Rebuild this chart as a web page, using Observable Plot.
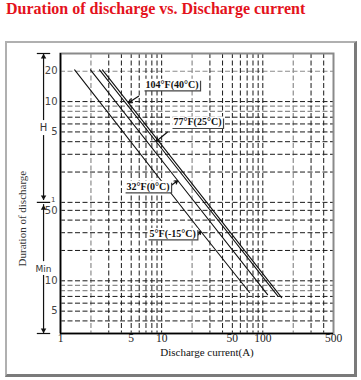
<!DOCTYPE html>
<html><head><meta charset="utf-8">
<script src="https://cdn.jsdelivr.net/npm/d3@7"></script>
<script src="https://cdn.jsdelivr.net/npm/@observablehq/plot@0.6"></script>
<style>
html,body{margin:0;padding:0;background:#fff}
#wrap{position:relative;width:361px;height:380px;overflow:hidden}
#title{position:absolute;left:6px;top:0;font:bold 16px "Liberation Serif","Times New Roman",serif;line-height:18px;color:#e4121c;white-space:nowrap}
#chart{position:absolute;left:0;top:30px;width:361px;height:350px}
#chart svg{background:none !important;max-width:none !important}
#box{position:absolute;left:5px;top:41px;width:347px;height:331px;border-left:2px solid #b0b0b0;border-top:2px solid #b0b0b0;border-right:3px solid #7a7a7a;border-bottom:3px solid #7a7a7a;z-index:5;pointer-events:none;background:transparent}
</style></head><body>
<div id="wrap">
<div id="title">Duration of discharge vs. Discharge current</div>
<div id="chart"></div>
<div id="box"></div>
</div>
<script>
// ---- data ----
const currentTicks = [1, 5, 10, 50, 100, 500];
const currentGrid = [3, 4, 5, 6, 7, 8, 9, 10, 30, 40, 50, 60, 70, 80, 90, 100, 300, 400];
const currentGridLight = [2, 20, 200];
const hourGrid = [10, 7, 6, 5, 4, 3, 2, 1];
const hourGridLight = [20, 9, 8];
const minuteGrid = [50, 40, 30, 20, 10, 7, 6, 5, 4];
const minuteGridLight = [9, 8];
const hourLabels = [20, 10, 5, 1];
const minuteLabels = [50, 10, 5];

const seriesNames = ["5°F(-15°C)", "32°F(0°C)", "77°F(25°C)", "104°F(40°C)"];
const currentM15 = [1.38, 24.3, 74];
const minutesM15 = [1240, 31, 7.65];
const current0 = [1.98, 14.4, 111.5];
const minutes0 = [1240, 98.9, 7.3];
const current25 = [2.43, 8.8, 141.6];
const minutes25 = [1240, 241, 7.0];
const current40 = [2.6, 4.7, 153.5];
const minutes40 = [1240, 583, 6.8];

// label anchor (current, minutes) and arrow start
const labelCurrent = [7.59, 4.5, 13.1, 6.93];
const labelMinutes = [29.3, 86, 374, 885];
const arrowFromCurrent = [21.3, 11.8, 11.36, 5.91];
const arrowFromMinutes = [26.1, 84.8, 298, 678];

// unit bracket annotation in the left margin (current-axis positions, minute spans)
const bracketCurrent = [0.59, 0.68, 0.8];
const hourSpan = [1800, 389, 276, 62.7];
const minuteSpan = [57, 15.5, 11.3, 3];

// ---- build tables ----
const curveX = [currentM15, current0, current25, current40];
const curveY = [minutesM15, minutes0, minutes25, minutes40];
const curves = seriesNames.flatMap((s, i) => curveX[i].map((c, j) => ({series: s, current: c, minutes: curveY[i][j]})));
const labels = seriesNames.map((s, i) => ({text: s, current: labelCurrent[i], minutes: labelMinutes[i]}));
const arrows = seriesNames.map((s, i) => ({
  x1: arrowFromCurrent[i], y1: arrowFromMinutes[i], x2: curveX[i][1], y2: curveY[i][1]
}));
const yLabels = [
  ...hourLabels.map(h => ({v: h * 60, t: String(h), small: h === 1})),
  ...minuteLabels.map(m => ({v: m, t: String(m), small: false}))
];
const bx = bracketCurrent[1];
const segs = [
  {y1: hourSpan[0], y2: hourSpan[1]}, {y1: hourSpan[2], y2: hourSpan[3]},
  {y1: minuteSpan[0], y2: minuteSpan[1]}, {y1: minuteSpan[2], y2: minuteSpan[3]}
];
const upHeads = [hourSpan[0], minuteSpan[0]];
const downHeads = [hourSpan[3], minuteSpan[3]];

const serif = "'Liberation Serif','Times New Roman',serif";
const sans = "'DejaVu Sans',Tahoma,sans-serif";
const dark = {stroke: "#1a1a1a", strokeWidth: 1, strokeDasharray: "5,2.5"};
const light = {stroke: "#8c8c8c", strokeWidth: 1.2, strokeDasharray: "5,2.5"};

const plot = Plot.plot({
  width: 361,
  height: 350,
  marginLeft: 60,
  marginRight: 28,
  marginTop: 23,
  marginBottom: 47,
  x: {type: "log", domain: [1, 500], axis: null},
  y: {type: "log", domain: [3, 1800], axis: null},
  style: {background: "none", overflow: "visible"},
  marks: [
    Plot.ruleX(currentGridLight, {x: d => d, ...light}),
    Plot.ruleY(hourGridLight, {y: h => h * 60, ...light}),
    Plot.ruleY(minuteGridLight, {y: m => m, ...light}),
    Plot.ruleX(currentGrid, {x: d => d, ...dark}),
    Plot.ruleY(hourGrid, {y: h => h * 60, ...dark}),
    Plot.ruleY(minuteGrid, {y: m => m, ...dark}),
    Plot.frame({stroke: "#8a8a8a", strokeWidth: 2}),
    Plot.ruleX([1], {stroke: "#000", strokeWidth: 1.6}),
    Plot.ruleY([3], {stroke: "#000", strokeWidth: 1.6}),
    Plot.line(curves, {x: "current", y: "minutes", z: "series", stroke: "#111", strokeWidth: 1.1}),
    Plot.arrow(arrows, {x1: "x1", y1: "y1", x2: "x2", y2: "y2", stroke: "#111", strokeWidth: 1.2, headLength: 5}),
    Plot.text(labels, {x: "current", y: "minutes", text: "text", textAnchor: "start", fontWeight: "bold",
      fontFamily: serif, fontSize: 10, fill: "#111"}),
    // axis tick labels
    Plot.text(currentTicks, {x: d => d, frameAnchor: "bottom", dy: 8, text: d => String(d),
      fontFamily: serif, fontSize: 11.5, fill: "#222"}),
    Plot.text(yLabels.filter(d => !d.small), {x: 1, y: "v", text: "t", dx: -3, textAnchor: "end",
      fontFamily: sans, fontSize: 10, fill: "#444"}),
    Plot.text(yLabels.filter(d => d.small), {x: 1, y: "v", text: "t", dx: -5, dy: -3, textAnchor: "end",
      fontFamily: sans, fontSize: 7, fill: "#444"}),
    // unit brackets
    Plot.ruleY([hourSpan[0], 60, minuteSpan[3]], {x1: bracketCurrent[0], x2: bracketCurrent[2], stroke: "#111", strokeWidth: 1.2}),
    Plot.ruleX(segs, {x: bx, y1: "y1", y2: "y2", stroke: "#111", strokeWidth: 1.2}),
    Plot.dot(upHeads, {x: bx, y: d => d, dy: 3.5, symbol: "triangle2", r: 2.6, fill: "#111", stroke: "none"}),
    Plot.dot(downHeads, {x: bx, y: d => d, dy: -3.5, symbol: "triangle2", rotate: 180, r: 2.6, fill: "#111", stroke: "none"}),
    Plot.text(["H"], {x: bx, y: 326, text: d => d, fontFamily: sans, fontSize: 10, fill: "#333"}),
    Plot.text(["Min"], {x: bx, y: 13.2, text: d => d, fontFamily: sans, fontSize: 9, fill: "#333"}),
    // axis titles
    Plot.text(["Discharge current(A)"], {frameAnchor: "bottom", dx: 10, dy: 22, text: d => d,
      fontFamily: serif, fontSize: 11, fill: "#111"}),
    Plot.text(["Duration of discharge"], {x: 1, y: 41.4, dx: -38, rotate: -90, text: d => d,
      fontFamily: serif, fontSize: 11, fill: "#333"})
  ]
});
document.getElementById("chart").appendChild(plot);

// bracket-style boxes behind the curve labels
d3.select(plot).selectAll("text").filter(function() { return seriesNames.includes(this.textContent); }).each(function() {
  const b = this.getBBox();
  const tr = this.getAttribute("transform") || "";
  const p = d3.select(this.parentNode);
  const x0 = b.x - 1, y0 = b.y, x1 = b.x + b.width + 2, y1 = b.y + b.height;
  p.insert("rect", () => this).attr("transform", tr)
    .attr("x", x0).attr("y", y0).attr("width", x1 - x0).attr("height", y1 - y0)
    .attr("fill", "#fff").attr("stroke", "none");
  p.append("path").attr("transform", tr)
    .attr("d", `M${x0},${y1}H${x1}V${y0 + 2}`)
    .attr("fill", "none").attr("stroke", "#444").attr("stroke-width", 1.2);
});
</script></body></html>
